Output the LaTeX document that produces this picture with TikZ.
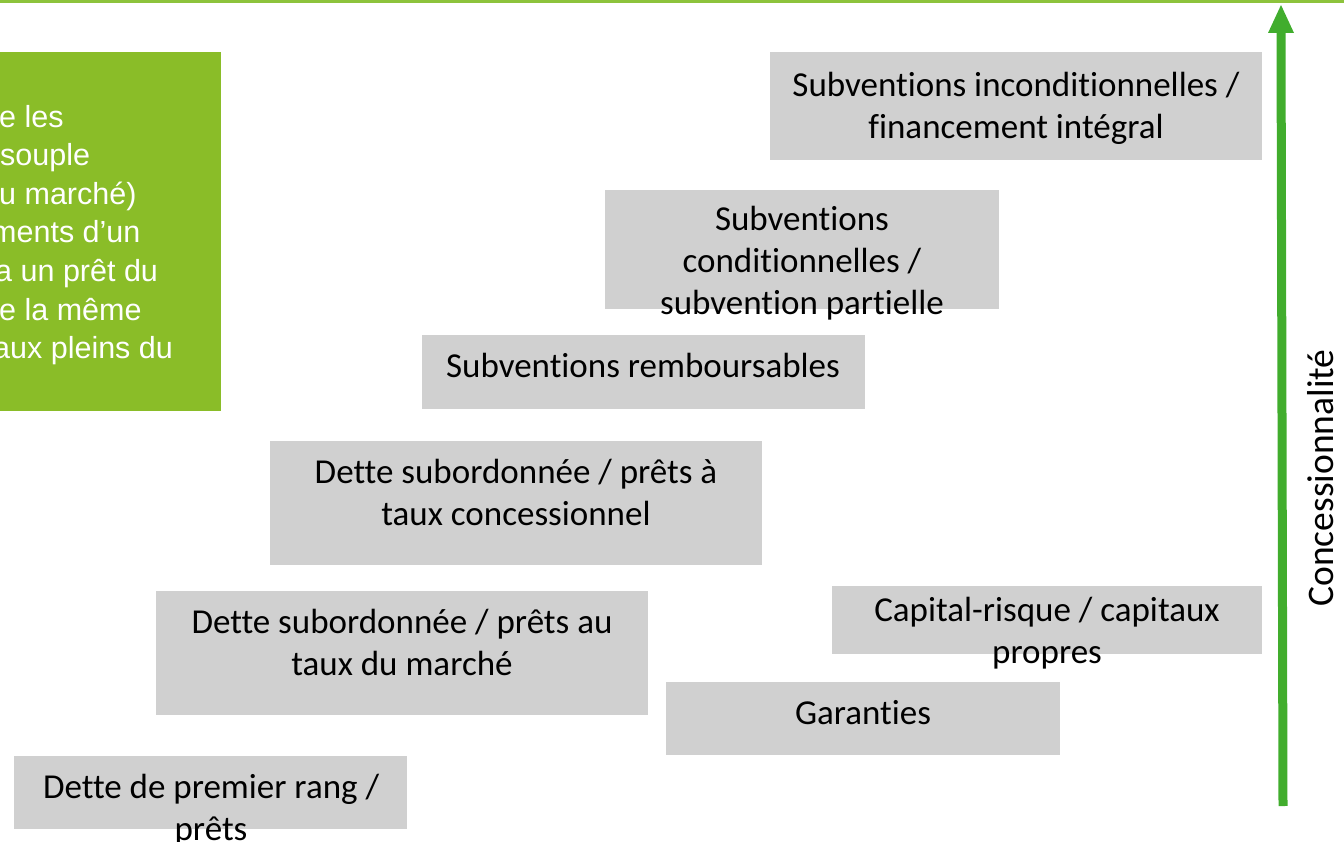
\documentclass[tikz,border=0pt]{standalone}
\usepackage{fontspec}
\setmainfont[Ligatures={NoCommon}]{Carlito}
\newfontfamily\arialfont{Liberation Sans}
\definecolor{boxgray}{HTML}{D0D0D0}
\definecolor{leafgreen}{HTML}{8ABD28}
\definecolor{linegreen}{HTML}{8DC33C}
\definecolor{arrowgreen}{HTML}{41AD2D}
\tikzset{
  graybox/.style={fill=boxgray, draw=none, anchor=north west, inner sep=0pt},
  boxtext/.style={align=center, inner sep=0pt, anchor=north, text=black,
    font=\fontsize{35}{42}\selectfont},
  greentext/.style={anchor=base west, inner sep=0pt, text=white,
    font=\arialfont\fontsize{30.5}{38.4}\selectfont},
}
\begin{document}
\begin{tikzpicture}[x=1pt,y=-1pt]
\useasboundingbox (0,0) rectangle (1344,842);
% top line
\draw[linegreen, line width=3pt] (0,1.5) -- (1344,1.5);
% green text box (clipped at left edge)
\begin{scope}
\clip (0,0) rectangle (1344,842);
\node[fill=leafgreen, draw=none, anchor=north east, minimum width=240pt, minimum height=359pt, inner sep=0pt] (note) at (221,52) {};
\node[greentext] (g1) at (-1,127.5) {e les};
\node[greentext] (g2) at (0,166) {souple};
\node[greentext] (g3) at (-1,204.5) {u marché)};
\node[greentext] (g4) at (-9,243) {ments d’un};
\node[greentext] (g5) at (-5,281.5) {a un prêt du};
\node[greentext] (g6) at (-1,320) {e la même};
\node[greentext] (g7) at (-7,358.5) {aux pleins du};
\end{scope}
% gray boxes
\node[graybox, minimum width=492pt, minimum height=108pt] (b1) at (770,52) {};
\node[boxtext] (t1) at (1016,72) {Subventions inconditionnelles /\\financement intégral};
\node[graybox, minimum width=394pt, minimum height=119pt] (b2) at (605,190) {};
\node[boxtext] (t2) at (802,206) {Subventions\\conditionnelles /\\subvention partielle};
\node[graybox, minimum width=443pt, minimum height=74pt] (b3) at (422,335) {};
\node[boxtext] (t3) at (643,353) {Subventions remboursables};
\node[graybox, minimum width=492pt, minimum height=124pt] (b4) at (270,441) {};
\node[boxtext] (t4) at (516,459) {Dette subordonnée / prêts à\\taux concessionnel};
\node[graybox, minimum width=492pt, minimum height=124pt] (b5) at (156,591) {};
\node[boxtext] (t5) at (402,609) {Dette subordonnée / prêts au\\taux du marché};
\node[graybox, minimum width=430pt, minimum height=68pt] (b6) at (832,586) {};
\node[boxtext] (t6) at (1047,597) {Capital-risque / capitaux\\propres};
\node[graybox, minimum width=394pt, minimum height=73pt] (b7) at (666,682) {};
\node[boxtext] (t7) at (863,700) {Garanties};
\node[graybox, minimum width=393pt, minimum height=73pt] (b8) at (14,756) {};
\node[boxtext] (t8) at (211,774) {Dette de premier rang /\\prêts};
% arrow
\coordinate (abot) at (1283,806);
\coordinate (atop) at (1281,32);
\coordinate (atip) at (1281,5);
\draw[arrowgreen, line width=9pt] (abot) -- (atop);
\fill[arrowgreen] (1268,33) -- (atip) -- (1294,33) -- cycle;
\node[rotate=90, inner sep=0pt, font=\fontsize{37.5}{42}\selectfont] (conc) at (1321,478) {Concessionnalité};
\end{tikzpicture}
\end{document}
